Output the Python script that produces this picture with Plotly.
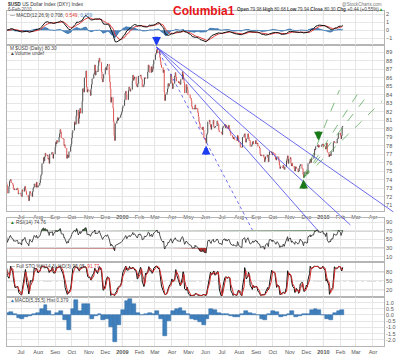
import numpy as np
import pandas as pd
import plotly.graph_objects as go

# ---------------- data (daily closes, grouped Mon..Fri per week) ----------------
first_week = "2008-05-05"
closes_2008 = [
    [73.1, 73.6, 73.4, 73.3, 72.9], [72.8, 73.4, 73.2, 72.9, 72.6], [72.1, 72.3, 72.1, 72.6, 72.0],
    [72.1, 72.7, 73.1, 73.5, 73.4], [73.0, 73.4, 73.7, 73.4, 72.4], [73.2, 73.8, 73.9, 74.0, 73.6],
    [73.4, 73.0, 72.8, 72.9, 72.8], [72.9, 73.0, 72.8, 72.3, 72.4], [72.4, 72.1, 72.0, 72.8, 72.6],
    [73.0, 73.2, 72.8, 72.6, 72.2], [71.9, 71.5, 72.1, 72.6, 72.4], [72.0, 72.6, 73.0, 73.1, 73.5],
    [73.1, 73.7, 73.2, 73.1, 73.3], [73.6, 74.0, 74.5, 74.6, 75.9], [76.6, 76.2, 76.7, 77.1, 76.8],
    [76.9, 76.4, 76.5, 75.9, 77.0], [77.0, 77.2, 77.2, 76.5, 77.0], [77.8, 78.4, 78.2, 78.6, 78.4],
    [79.0, 79.4, 79.9, 79.6, 78.9], [78.8, 78.8, 78.0, 78.1, 77.7], [76.5, 76.9, 76.9, 76.6, 77.3],
    [77.9, 78.2, 78.9, 79.5, 79.8], [80.8, 80.6, 80.5, 81.5, 82.2], [80.6, 81.2, 82.0, 82.4, 81.8],
    [83.2, 84.7, 84.7, 84.3, 86.0], [86.8, 84.9, 84.3, 84.6, 84.5], [84.4, 83.9, 84.7, 85.2, 85.9],
    [86.4, 86.6, 87.5, 86.3, 86.8], [86.7, 87.4, 88.0, 88.3, 87.8], [86.7, 85.8, 85.5, 85.9, 86.4],
    [87.1, 87.2, 86.9, 87.4, 87.6], [86.3, 85.5, 84.7, 83.1, 83.7], [82.4, 80.8, 79.2, 78.6, 80.6],
    [80.9, 81.3, 81.0, 81.2, 81.3], [81.6, 81.8, 82.0, 82.4, 82.7],
]
closes_2009 = [
    [83.4, 84.2, 84.4, 84.0, 83.4], [84.5, 84.9, 84.8, 84.4, 84.6], [85.6, 86.3, 85.7, 85.9, 86.1],
    [85.2, 85.0, 84.9, 85.3, 86.2], [86.2, 86.3, 85.9, 85.8, 84.9], [85.2, 86.0, 86.0, 85.9, 85.9],
    [86.7, 87.5, 87.4, 87.3, 86.6], [87.3, 86.7, 87.0, 87.6, 88.1], [88.7, 88.9, 89.2, 89.4, 88.9],
    [89.1, 88.4, 87.9, 87.5, 87.2], [86.6, 86.9, 84.3, 83.3, 84.0], [84.3, 84.7, 85.3, 85.0, 85.3],
    [86.4, 86.0, 85.4, 84.7, 85.3], [86.2, 86.6, 86.1, 85.6, 85.6], [85.4, 85.5, 85.3, 85.2, 85.8],
    [86.7, 86.4, 85.8, 85.4, 84.2], [85.2, 84.9, 84.6, 84.0, 84.0], [83.6, 83.6, 83.3, 82.6, 82.3],
    [82.4, 82.3, 82.8, 82.3, 82.4], [81.9, 81.4, 80.8, 80.6, 80.1], [80.0, 79.9, 80.2, 79.8, 78.9],
    [78.6, 78.3, 79.3, 79.5, 80.8], [81.0, 80.5, 80.2, 79.9, 80.5], [81.0, 80.2, 80.1, 80.2, 80.3],
    [80.9, 80.6, 80.5, 79.8, 79.6], [79.6, 79.5, 79.3, 80.1, 80.3], [80.5, 80.1, 80.4, 80.3, 80.0],
    [80.4, 80.0, 79.7, 79.5, 79.2], [79.0, 78.8, 79.0, 78.8, 78.7], [78.6, 78.6, 79.2, 79.0, 78.4],
    [77.9, 77.8, 77.8, 77.8, 79.0], [79.3, 79.4, 78.9, 78.4, 78.8], [79.4, 79.0, 78.6, 78.6, 77.9],
    [78.1, 78.4, 78.5, 78.2, 78.2], [78.6, 78.3, 78.2, 78.3, 77.9], [77.7, 77.0, 76.8, 76.9, 76.8],
    [76.9, 76.6, 76.1, 76.4, 76.7], [76.9, 76.6, 76.1, 76.9, 77.3], [77.3, 77.1, 76.9, 77.2, 77.1],
    [76.7, 76.4, 76.3, 76.6, 76.7], [76.2, 75.7, 75.3, 75.5, 75.5], [75.4, 75.7, 75.3, 75.2, 75.5],
    [76.2, 76.5, 76.8, 75.9, 76.4], [76.6, 75.9, 75.6, 75.9, 75.6], [75.3, 75.0, 75.5, 75.5, 75.3],
    [74.9, 75.0, 75.3, 75.6, 75.8], [75.3, 75.3, 74.6, 74.3, 74.9], [74.9, 74.7, 74.8, 74.7, 75.9],
    [76.1, 76.4, 76.0, 76.3, 76.5], [76.5, 76.9, 77.6, 77.5, 77.9], [78.0, 78.1, 77.8, 78.0, 77.9],
    [77.9, 78.1, 78.1, 78.2, 77.9],
]
closes_2010 = [
    [77.9, 77.6, 77.9, 78.3, 77.2], [76.7, 76.9, 77.0, 76.8, 77.3], [77.3, 78.3, 78.5, 78.4, 78.3],
    [78.3, 78.8, 78.8, 79.3, 79.5], [79.2, 78.8, 79.2, 80.2, 80.3],
]

# MACD(5,35,5) histogram, one reading per week (week of 2008-06-02 .. week of 2010-02-01)
hist_first_week = "2008-06-02"
hist_weekly = [
    0.2, 0.25, 0.05, -0.25, -0.35, -0.2, -0.1, 0.05, 0.2, 0.45, 0.8, 0.3, 0.0, 0.2, 0.35, -0.4,
    -1.2, 0.5, 1.2, 0.3, 0.9, 0.9, -0.35, -0.1, 0.1, -0.4, -0.3, -1.0, -2.2, -0.8, 0.4, 1.1,
    1.3, 0.9, 0.2, 0.0, 0.1, 0.15, 0.1, 0.35, -0.3, -1.7, -0.5, 0.3, 0.5, 0.6, 0.3, 0.1,
    -0.3, -0.4, -0.6, -0.8, -0.3, 0.5, 0.4, 0.2, 0.1, 0.05, -0.05, -0.15, -0.15, 0.1, 0.35, 0.2,
    0.05, 0.0, -0.35, -0.4, 0.1, 0.3, 0.25, -0.15, -0.1, 0.1, 0.3, -0.15, -0.1, 0.05, 0.1, 0.4,
    0.45, 0.4, 0.0, -0.3, -0.4, 0.2, 0.3, 0.38,
]

tick_labels = ["Jul", "Aug", "Sep", "Oct", "Nov", "Dec", "<b>2009</b>", "Feb", "Mar", "Apr", "May", "Jun",
               "Jul", "Aug", "Sep", "Oct", "Nov", "Dec", "<b>2010</b>", "Feb", "Mar", "Apr"]
x_range = ["2008-06-05 12:00", "2010-04-21"]
price_range = [70.3, 89.85]
price_ticks = list(range(71, 90))

# trendlines (start date, start value) -> (end date, end value)
blue_fan_start = ("2009-03-04", 89.6)
blue_fan_end_dates = ["2009-08-25", "2009-12-21", "2010-02-19", "2010-05-08"]
blue_fan_end_vals = [68.07, 68.07, 68.66, 70.19]
blue_fan_dash = ["dot", "solid", "solid", "solid"]
green_fan_start = ("2009-11-26", 74.2)
green_fan_end_dates = ["2010-01-30", "2010-03-11", "2010-03-24", "2010-04-18"]
green_fan_end_vals = [84.54, 84.78, 84.07, 83.25]

arrow_dates = ["2009-03-04", "2009-06-02", "2009-11-26", "2009-12-23"]
arrow_vals = [89.75, 78.0, 74.0, 78.6]
arrow_dirs = ["down", "up", "up", "down"]
arrow_colors = ["#1f3df0", "#1f3df0", "#1a7a1a", "#1a7a1a"]

# ---------------- derived series ----------------
weeks = closes_2008 + closes_2009 + closes_2010
dates, close = [], []
t0 = pd.Timestamp(first_week)
for w, wk in enumerate(weeks):
    for d, c in enumerate(wk):
        dates.append(t0 + pd.Timedelta(days=7 * w + d))
        close.append(c)
dates = pd.DatetimeIndex(dates)
s = pd.Series(close, index=dates)
opn = s.shift(1).fillna(s.iloc[0])
hi = np.maximum(opn, s)
lo = np.minimum(opn, s)


def ema(x, n):
    return x.ewm(span=n, adjust=False).mean()


macd = ema(s, 12) - ema(s, 26)
sig = ema(macd, 9)
hist = macd - sig
d = s.diff().fillna(0)
au = d.clip(lower=0).ewm(alpha=1 / 14, adjust=False).mean()
ad = (-d.clip(upper=0)).ewm(alpha=1 / 14, adjust=False).mean()
rsi = 100 - 100 / (1 + au / ad.replace(0, 1e-9))
ll = lo.rolling(14, min_periods=1).min()
hh = hi.rolling(14, min_periods=1).max()
rawk = ((s - ll) / (hh - ll).replace(0, 1e-9) * 100)
stok = rawk.rolling(3, min_periods=1).mean()
stod = stok.rolling(3, min_periods=1).mean()
hist_dates = pd.date_range(hist_first_week, periods=len(hist_weekly), freq="7D") + pd.Timedelta(hours=84)

# ---------------- layout geometry ----------------
W, H = 400, 354
X0, X1 = 7, 384


def pp(py):
    return 1 - py / H


def dom(top, bot):
    return [pp(bot), pp(top)]


P_MACD = (11, 45)
P_MAIN = (45, 211)
P_RSI = (218, 261)
P_STO = (263, 297)
P_HIST = (297, 346)
OV_BOTTOM = 236
OV_RIGHT = 396

FONT = "Arial, Liberation Sans, sans-serif"
GRID = "#e6e6e6"
BORDER = "#b5b5b5"
TXT = "#555555"

fig = go.Figure()

# main price bars
fig.add_trace(go.Ohlc(x=dates, open=opn, high=hi, low=lo, close=s, xaxis="x", yaxis="y",
                      increasing=dict(line=dict(color="#4a4a4a", width=1)),
                      decreasing=dict(line=dict(color="#de5050", width=1)),
                      tickwidth=0.35, showlegend=False, hoverinfo="skip"))
# green fan on main axes
for ed, ev in zip(green_fan_end_dates, green_fan_end_vals):
    fig.add_trace(go.Scatter(x=[green_fan_start[0], ed], y=[green_fan_start[1], ev], mode="lines",
                             line=dict(color="rgba(60,150,60,0.65)", width=1, dash="dash"),
                             xaxis="x", yaxis="y", showlegend=False, hoverinfo="skip"))

# MACD top panel
fig.add_trace(go.Scatter(x=dates, y=hist, fill="tozeroy", mode="lines",
                         line=dict(color="#2f6fae", width=0.8), fillcolor="rgba(47,111,174,0.85)",
                         xaxis="x2", yaxis="y2", showlegend=False, hoverinfo="skip"))
fig.add_trace(go.Scatter(x=dates, y=sig, mode="lines", line=dict(color="#e23b3b", width=1),
                         xaxis="x2", yaxis="y2", showlegend=False, hoverinfo="skip"))
fig.add_trace(go.Scatter(x=dates, y=macd, mode="lines", line=dict(color="#111111", width=1),
                         xaxis="x2", yaxis="y2", showlegend=False, hoverinfo="skip"))

# RSI panel
fig.add_trace(go.Scatter(x=dates, y=[70] * len(dates), mode="lines", line=dict(width=0),
                         xaxis="x3", yaxis="y3", showlegend=False, hoverinfo="skip"))
fig.add_trace(go.Scatter(x=dates, y=np.maximum(rsi, 70), mode="lines", line=dict(width=0),
                         fill="tonexty", fillcolor="#4d7d4d", xaxis="x3", yaxis="y3",
                         showlegend=False, hoverinfo="skip"))
fig.add_trace(go.Scatter(x=dates, y=[30] * len(dates), mode="lines", line=dict(width=0),
                         xaxis="x3", yaxis="y3", showlegend=False, hoverinfo="skip"))
fig.add_trace(go.Scatter(x=dates, y=np.minimum(rsi, 30), mode="lines", line=dict(width=0),
                         fill="tonexty", fillcolor="#b03030", xaxis="x3", yaxis="y3",
                         showlegend=False, hoverinfo="skip"))
fig.add_trace(go.Scatter(x=dates, y=rsi, mode="lines", line=dict(color="#222222", width=0.8),
                         xaxis="x3", yaxis="y3", showlegend=False, hoverinfo="skip"))

# Full stochastics panel
fig.add_trace(go.Scatter(x=dates, y=stok, mode="lines", line=dict(color="#111111", width=1),
                         xaxis="x4", yaxis="y4", showlegend=False, hoverinfo="skip"))
fig.add_trace(go.Scatter(x=dates, y=stod, mode="lines", line=dict(color="#d42a2a", width=1),
                         xaxis="x4", yaxis="y4", showlegend=False, hoverinfo="skip"))

# MACD(5,35,5) histogram panel
fig.add_trace(go.Bar(x=hist_dates, y=hist_weekly,
                     marker=dict(color="#3f7fbc", line=dict(color="#2c6aa6", width=0.5)),
                     width=7 * 86400000, xaxis="x5", yaxis="y5", showlegend=False, hoverinfo="skip"))

# overlay subplot for blue fan lines (extends beyond price panel like the original)
for ed, ev, ds in zip(blue_fan_end_dates, blue_fan_end_vals, blue_fan_dash):
    fig.add_trace(go.Scatter(x=[blue_fan_start[0], ed], y=[blue_fan_start[1], ev], mode="lines",
                             line=dict(color="rgba(60,60,235,0.75)", width=1, dash=ds),
                             xaxis="x6", yaxis="y6", showlegend=False, hoverinfo="skip"))

# ---------------- axes ----------------
tick_months = pd.date_range("2008-07-01", periods=len(tick_labels), freq="MS")
xr0, xr1 = pd.Timestamp(x_range[0]), pd.Timestamp(x_range[1])
xr_ext = xr0 + (xr1 - xr0) * ((OV_RIGHT - X0) / (X1 - X0))
units_per_px = (price_range[1] - price_range[0]) / (P_MAIN[1] - P_MAIN[0])
ov_range = [price_range[1] - (OV_BOTTOM - P_MAIN[0]) * units_per_px, price_range[1]]


def xax(anchor, labels):
    return dict(type="date", range=x_range, domain=[X0 / W, X1 / W], anchor=anchor,
                tickvals=tick_months, ticktext=tick_labels, showticklabels=labels,
                tickfont=dict(size=5.5, color=TXT, family=FONT), ticks="", ticklen=0,
                showgrid=True, gridcolor=GRID, gridwidth=1, zeroline=False,
                showline=True, mirror=True, linecolor=BORDER, linewidth=1, fixedrange=True,
                rangeslider=dict(visible=False))


def yax(anchor, domain, rng, tickvals, ticktext=None):
    d = dict(domain=domain, anchor=anchor, range=rng, side="right", tickvals=tickvals,
             tickfont=dict(size=5.5, color=TXT, family=FONT), ticks="", showgrid=True, gridcolor=GRID,
             zeroline=False, showline=True, mirror=True, linecolor=BORDER, linewidth=1,
             fixedrange=True, automargin=False)
    if ticktext is not None:
        d["ticktext"] = ticktext
    return d


fig.update_layout(
    width=W, height=H, margin=dict(l=0, r=0, t=0, b=0),
    paper_bgcolor="white", plot_bgcolor="rgba(0,0,0,0)", showlegend=False,
    font=dict(family=FONT),
    xaxis=xax("y", True),
    yaxis=yax("x", dom(*P_MAIN), price_range, price_ticks),
    xaxis2=xax("y2", False),
    yaxis2=yax("x2", dom(*P_MACD), [-1.85, 2.45], [-1, 0, 1, 2]),
    xaxis3=xax("y3", False),
    yaxis3=yax("x3", dom(*P_RSI), [0, 100], [10, 30, 50, 70, 90]),
    xaxis4=xax("y4", False),
    yaxis4=yax("x4", dom(*P_STO), [-5, 111], [20, 50, 80]),
    xaxis5=xax("y5", True),
    yaxis5=yax("x5", dom(*P_HIST), [-2.5, 1.45], [-2.0, -1.5, -1.0, -0.5, 0.0, 0.5, 1.0],
               ["-2.0", "-1.5", "-1.0", "-0.5", "0.0", "0.5", "1.0"]),
    xaxis6=dict(type="date", range=[xr0, xr_ext], domain=[X0 / W, OV_RIGHT / W], anchor="y6",
                visible=False, fixedrange=True),
    yaxis6=dict(range=ov_range, domain=dom(P_MAIN[0], OV_BOTTOM), anchor="x6", visible=False,
                fixedrange=True),
    bargap=0,
)

shapes = []
# reference lines in RSI and STO
for yv, dash, col in [(70, "solid", "#9a9a9a"), (30, "solid", "#9a9a9a"), (50, "dashdot", "#b0b0b0")]:
    shapes.append(dict(type="line", xref="x3 domain", yref="y3", x0=0, x1=1, y0=yv, y1=yv,
                       line=dict(color=col, width=1, dash=dash), layer="below"))
for yv, dash, col in [(80, "solid", "#9a9a9a"), (20, "solid", "#9a9a9a"), (50, "dashdot", "#b0b0b0")]:
    shapes.append(dict(type="line", xref="x4 domain", yref="y4", x0=0, x1=1, y0=yv, y1=yv,
                       line=dict(color=col, width=1, dash=dash), layer="below"))
# darker year separators
for yr in ["2009-01-01", "2010-01-01"]:
    for xa, ya in [("x", "y"), ("x2", "y2"), ("x3", "y3"), ("x4", "y4"), ("x5", "y5")]:
        shapes.append(dict(type="line", xref=xa, yref=ya + " domain", x0=yr, x1=yr, y0=0, y1=1,
                           line=dict(color="#c4c4c4", width=1), layer="below"))
fig.update_layout(shapes=shapes)

ann = []


def txt(px, py, text, size=6, color=TXT, anchor="left"):
    ann.append(dict(xref="paper", yref="paper", x=px / W, y=pp(py), text=text, showarrow=False,
                    xanchor=anchor, yanchor="middle", font=dict(size=size, color=color, family=FONT)))


txt(6, 4.5, "<b>$USD</b> US Dollar Index (DXY) Index", size=4.8, color="#333")
txt(6, 10, "6-Feb-2010", size=4.6, color="#555")
txt(204, 10.5, "<b>Columbia1</b>", size=12, color="#e8141a", anchor="center")
txt(384, 4, "@StockCharts.com", size=4.6, color="#777", anchor="right")
txt(385, 10, "<b>Open</b> 79.98 <b>High</b> 80.68 <b>Low</b> 79.94 <b>Close</b> 80.30 "
             "<b>Chg</b> +0.44 (+0.55%)<span style='color:#2a9a2a'>▲</span>",
    size=4.6, color="#444", anchor="right")
txt(8, 15.5, "— MACD(12,26,9) 0.708, <span style='color:#e23b3b'>0.549</span>, "
             "<span style='color:#4f8fd0'>0.159</span>", size=4.8, color="#444")
txt(8, 48.5, "M $USD (Daily) 80.30", size=4.8, color="#444")
txt(8, 53.5, "▲Volume undef", size=4.8, color="#444")
txt(8, 222, "<span style='color:#2a7a2a'>▲</span> RSI(14) 74.76", size=4.8, color="#444")
txt(8, 266.5, "— Full STO %K(14,3) %D(3) 95.05, <span style='color:#e23b3b'>91.77</span>",
    size=4.8, color="#444")
txt(8, 300.5, "<span style='color:#3a78b5'>▲</span>MACD(5,35,5) Hist 0.379", size=4.8, color="#444")

for ad_, av, dr, col in zip(arrow_dates, arrow_vals, arrow_dirs, arrow_colors):
    ann.append(dict(xref="x", yref="y", x=ad_, y=av, ax=0, ay=(-11 if dr == "down" else 11),
                    text=" ", font=dict(size=1), showarrow=True, arrowhead=2, arrowsize=0.55,
                    arrowwidth=3.2, arrowcolor=col, standoff=0, startstandoff=0))
fig.update_layout(annotations=ann)

fig.write_html("out.html")
